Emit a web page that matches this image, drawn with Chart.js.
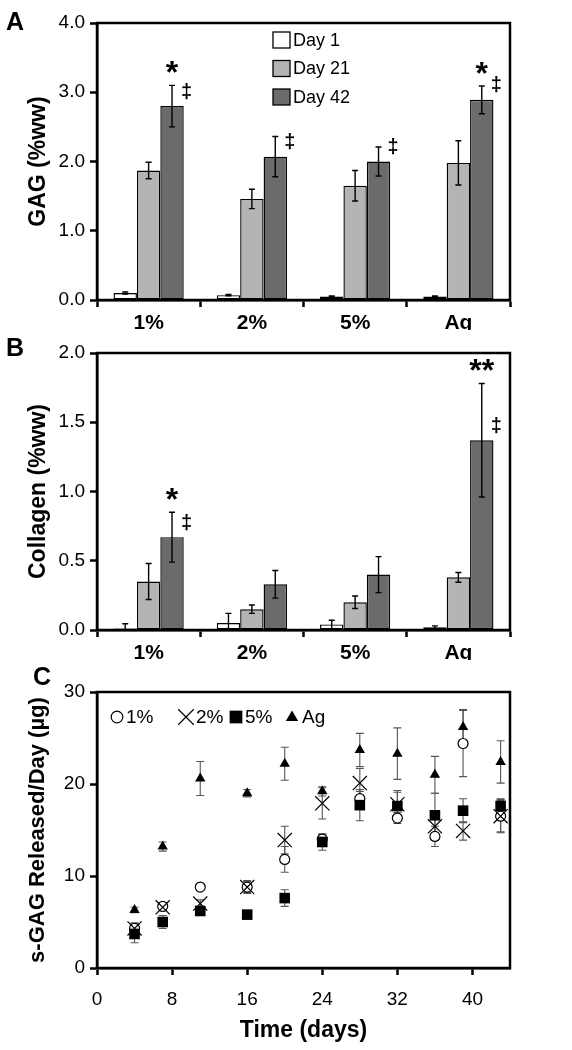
<!DOCTYPE html>
<html>
<head>
<meta charset="utf-8">
<script src="https://cdn.jsdelivr.net/npm/chart.js@4.4.1/dist/chart.umd.min.js"></script>
<style>
  html, body { margin: 0; padding: 0; background: #fff; }
  #page { position: relative; width: 572px; height: 1050px; overflow: hidden; }
  canvas { position: absolute; left: 0; }
</style>
</head>
<body>
<div id="page">
  <canvas id="chartA" width="572" height="330" style="top:0"></canvas>
  <canvas id="chartB" width="572" height="330" style="top:330px"></canvas>
  <canvas id="chartC" width="572" height="390" style="top:660px"></canvas>
</div>
<script>
// ---- data ----
const groups = ['1%', '2%', '5%', 'Ag'];
const dayLabels = ['Day 1', 'Day 21', 'Day 42'];

// A: GAG (%ww)
const gagDay1 = [0.10, 0.07, 0.05, 0.05];
const gagDay1Err = [0.015, 0.01, 0.01, 0.01];
const gagDay21 = [1.87, 1.46, 1.65, 1.98];
const gagDay21Err = [0.12, 0.14, 0.22, 0.32];
const gagDay42 = [2.80, 2.07, 2.00, 2.89];
const gagDay42Err = [0.30, 0.29, 0.21, 0.20];
const gagStar = ['*', '', '', '*'];
const gagDagger = ['‡', '‡', '‡', '‡'];

// B: Collagen (%ww)
const colDay1 = [0.01, 0.05, 0.04, 0.02];
const colDay1Err = [0.035, 0.07, 0.03, 0.01];
const colDay21 = [0.35, 0.15, 0.20, 0.38];
const colDay21Err = [0.13, 0.03, 0.045, 0.035];
const colDay42 = [0.67, 0.33, 0.40, 1.37];
const colDay42Err = [0.18, 0.10, 0.13, 0.41];
const colStar = ['*', '', '', '**'];
const colDagger = ['‡', '', '', '‡'];

// C: s-GAG released per day
const days = [4, 7, 11, 16, 20, 24, 28, 32, 36, 39, 43];
const rel1 = [4.3, 6.7, 8.8, 8.8, 11.8, 14.0, 18.4, 16.3, 14.3, 24.4, 16.5];
const rel1Err = [0.6, 0.4, 0.2, 0.6, 1.4, 0.5, 0.8, 0.6, 1.1, 3.6, 1.8];
const rel2 = [4.3, 6.6, 7.0, 8.8, 13.9, 17.9, 20.1, 17.8, 15.4, 14.9, 16.5];
const rel2Err = [0.5, 0.4, 0.4, 0.7, 1.5, 1.7, 1.6, 1.5, 1.5, 1.0, 1.7];
const rel5 = [3.7, 5.0, 6.2, 5.8, 7.6, 13.7, 17.7, 17.6, 16.6, 17.1, 17.6];
const rel5Err = [0.95, 0.7, 0.3, 0.3, 0.9, 0.9, 1.7, 1.5, 2.4, 1.3, 0.8];
const relAg = [6.3, 13.2, 20.6, 19.0, 22.2, 19.2, 23.7, 23.3, 21.0, 26.2, 22.4];
const relAgErr = [0.3, 0.5, 1.85, 0.4, 1.8, 0.5, 1.8, 2.8, 2.0, 1.9, 2.3];

const gagTicks = [0, 1, 2, 3, 4];
const colTicks = [0, 0.5, 1, 1.5, 2];
const dayTicks = [0, 8, 16, 24, 32, 40];
const relTicks = [0, 10, 20, 30];

// ---- shared look ----
const FONT = "'Liberation Sans', Arial, sans-serif";
Chart.defaults.font.family = FONT;
Chart.defaults.color = '#000';
Chart.defaults.animation = false;

const BAR_COLORS = ['#ffffff', '#b4b4b4', '#6b6b6b'];
const AXIS_W = 2.5;
const PLOT_LEFT = 97;   // width kept for the y axis
const PAD_RIGHT = 62;

// error bars, drawn from the dataset "errors" arrays through the y scale
const errorBarPlugin = {
    id: 'errorBars',
    beforeDatasetsDraw(chart, args, opts) { if (opts.under) drawErrors(chart, opts); },
    afterDatasetsDraw(chart, args, opts) { if (!opts.under) drawErrors(chart, opts); }
};
function drawErrors(chart, opts) {
    const ctx = chart.ctx;
    const yScale = chart.scales.y;
    const area = chart.chartArea;
    ctx.save();
    ctx.beginPath();
    ctx.rect(area.left, area.top - 1, area.right - area.left, area.bottom - area.top + 1);
    ctx.clip();
    ctx.strokeStyle = opts.color;
    ctx.lineWidth = opts.width;
    chart.data.datasets.forEach((ds, i) => {
        if (!ds.errors) return;
        chart.getDatasetMeta(i).data.forEach((el, j) => {
            const raw = ds.data[j];
            const v = typeof raw === 'object' ? raw.y : raw;
            const e = ds.errors[j];
            const x = el.x;
            const yHi = yScale.getPixelForValue(v + e);
            const yLo = yScale.getPixelForValue(v - e);
            ctx.beginPath();
            ctx.moveTo(x, yHi); ctx.lineTo(x, yLo);
            ctx.moveTo(x - opts.cap, yHi); ctx.lineTo(x + opts.cap, yHi);
            ctx.moveTo(x - opts.cap, yLo); ctx.lineTo(x + opts.cap, yLo);
            ctx.stroke();
        });
    });
    ctx.restore();
}

// text centred on a point using the glyph box
function centredText(ctx, text, x, y) {
    const m = ctx.measureText(text);
    ctx.fillText(text, x, y + (m.actualBoundingBoxAscent - m.actualBoundingBoxDescent) / 2);
}

// significance marks above / beside the Day 42 bars
const sigPlugin = {
    id: 'sig',
    afterDatasetsDraw(chart, args, opts) {
        const ctx = chart.ctx;
        const ds = chart.data.datasets[2];
        const meta = chart.getDatasetMeta(2);
        const yScale = chart.scales.y;
        ctx.save();
        ctx.fillStyle = '#000';
        ctx.textAlign = 'center';
        ctx.textBaseline = 'alphabetic';
        meta.data.forEach((el, j) => {
            const top = yScale.getPixelForValue(ds.data[j] + ds.errors[j]);
            if (opts.stars[j]) {
                ctx.font = 'bold 32px ' + FONT;
                centredText(ctx, opts.stars[j], el.x, top - 18);
            }
            if (opts.daggers[j]) {
                ctx.font = 'bold 20px ' + FONT;
                centredText(ctx, opts.daggers[j], el.x + 14.5, el.y - 15);
            }
        });
        ctx.restore();
    }
};

// boxed frame around the plot and the panel letter
const framePlugin = {
    id: 'frame',
    afterDraw(chart, args, opts) {
        const ctx = chart.ctx;
        const a = chart.chartArea;
        ctx.save();
        ctx.strokeStyle = '#000';
        ctx.lineWidth = AXIS_W;
        ctx.strokeRect(a.left, a.top, a.right - a.left, a.bottom - a.top);
        ctx.fillStyle = '#000';
        ctx.font = 'bold 25px ' + FONT;
        ctx.textAlign = 'left';
        ctx.textBaseline = 'alphabetic';
        ctx.fillText(opts.letter, opts.lx, opts.ly);
        ctx.restore();
    }
};

const barLegendPlugin = {
    id: 'barLegend',
    afterDraw(chart, args, opts) {
        if (!opts.show) return;
        const ctx = chart.ctx;
        const a = chart.chartArea;
        ctx.save();
        ctx.font = '18px ' + FONT;
        ctx.textBaseline = 'middle';
        ctx.lineWidth = 1.3;
        chart.data.datasets.forEach((ds, i) => {
            const x = a.left + 176;
            const y = a.top + 17 + i * 28.5;
            ctx.fillStyle = ds.backgroundColor;
            ctx.fillRect(x, y - 8, 17, 16);
            ctx.strokeStyle = '#000';
            ctx.strokeRect(x, y - 8, 17, 16);
            ctx.fillStyle = '#000';
            ctx.fillText(ds.label, x + 20, y + 1);
        });
        ctx.restore();
    }
};

function drawMarker(ctx, style, x, y, r) {
    ctx.beginPath();
    if (style === 'circle') {
        ctx.arc(x, y, r, 0, Math.PI * 2);
        ctx.fillStyle = '#fff'; ctx.fill(); ctx.stroke();
    } else if (style === 'crossRot') {
        const d = r * Math.SQRT1_2;
        ctx.moveTo(x - d, y - d); ctx.lineTo(x + d, y + d);
        ctx.moveTo(x - d, y + d); ctx.lineTo(x + d, y - d);
        ctx.stroke();
    } else if (style === 'rect') {
        const s = r * Math.SQRT1_2;
        ctx.fillStyle = '#000'; ctx.fillRect(x - s, y - s, 2 * s, 2 * s);
    } else if (style === 'triangle') {
        ctx.moveTo(x, y - r);
        ctx.lineTo(x + r * 0.95, y + r * 0.6);
        ctx.lineTo(x - r * 0.95, y + r * 0.6);
        ctx.closePath();
        ctx.fillStyle = '#000'; ctx.fill();
    }
}

const scatterLegendPlugin = {
    id: 'scatterLegend',
    afterDraw(chart, args, opts) {
        const ctx = chart.ctx;
        const a = chart.chartArea;
        const y = a.top + 25;
        ctx.save();
        ctx.font = '19px ' + FONT;
        ctx.textBaseline = 'middle';
        ctx.strokeStyle = '#000';
        ctx.lineWidth = 1.2;
        const sizes = { circle: 5.8, crossRot: 11, rect: 9, triangle: 6.5 };
        const gaps = { circle: 9, crossRot: 10, rect: 9, triangle: 10 };
        chart.data.datasets.forEach((ds, i) => {
            const x = a.left + opts.offsets[i];
            drawMarker(ctx, ds.pointStyle, x, y, sizes[ds.pointStyle]);
            ctx.fillStyle = '#000';
            ctx.fillText(ds.label, x + gaps[ds.pointStyle], y + 1);
        });
        ctx.restore();
    }
};

function axisGrid() {
    return { display: true, drawOnChartArea: false, drawTicks: true, tickLength: 7, tickWidth: AXIS_W, tickColor: '#000' };
}
function axisBorder() {
    return { display: true, color: '#000', width: AXIS_W };
}

function makeBarChart(id, yTicks, yTitle, series, errs, stars, daggers, letter, showLegend) {
    new Chart(document.getElementById(id), {
        type: 'bar',
        data: {
            labels: groups,
            datasets: series.map((vals, i) => ({
                label: dayLabels[i],
                data: vals,
                errors: errs[i],
                backgroundColor: BAR_COLORS[i],
                borderColor: '#000',
                borderWidth: 1.4,
                borderSkipped: false,
                categoryPercentage: 0.68,
                barPercentage: 1.0
            }))
        },
        options: {
            responsive: false,
            events: [],
            layout: { padding: { top: 23, right: PAD_RIGHT, left: 0, bottom: 0 } },
            scales: {
                x: {
                    offset: true,
                    grid: Object.assign(axisGrid(), { offset: true }),
                    border: axisBorder(),
                    ticks: { font: { size: 21, weight: 'bold' }, padding: 4 },
                    afterFit: s => { s.height = 30; }
                },
                y: {
                    min: yTicks[0],
                    max: yTicks[yTicks.length - 1],
                    afterBuildTicks: s => { s.ticks = yTicks.map(v => ({ value: v })); },
                    ticks: { font: { size: 19 }, padding: 5, callback: v => Number(v).toFixed(1) },
                    grid: axisGrid(),
                    border: axisBorder(),
                    title: { display: true, text: yTitle, font: { size: 23, weight: 'bold' }, padding: { top: 25, bottom: 0 } },
                    afterFit: s => { s.width = PLOT_LEFT; }
                }
            },
            plugins: {
                legend: { display: false },
                tooltip: { enabled: false },
                errorBars: { color: '#000', width: 1.4, cap: 3, under: false },
                sig: { stars: stars, daggers: daggers },
                frame: { letter: letter, lx: 6, ly: letter === 'A' ? 30 : 26 },
                barLegend: { show: showLegend }
            }
        },
        plugins: [errorBarPlugin, sigPlugin, framePlugin, barLegendPlugin]
    });
}

makeBarChart('chartA', gagTicks, 'GAG (%ww)',
    [gagDay1, gagDay21, gagDay42], [gagDay1Err, gagDay21Err, gagDay42Err],
    gagStar, gagDagger, 'A', true);

makeBarChart('chartB', colTicks, 'Collagen (%ww)',
    [colDay1, colDay21, colDay42], [colDay1Err, colDay21Err, colDay42Err],
    colStar, colDagger, 'B', false);

// ---- C: scatter with error bars ----
function pts(ys) {
    return days.map((d, i) => ({ x: d, y: ys[i] }));
}

new Chart(document.getElementById('chartC'), {
    type: 'scatter',
    data: {
        datasets: [
            { label: '1%', data: pts(rel1), errors: rel1Err, pointStyle: 'circle', pointRadius: 5,
              backgroundColor: '#fff', borderColor: '#000', borderWidth: 1.2, order: 4 },
            { label: '2%', data: pts(rel2), errors: rel2Err, pointStyle: 'crossRot', pointRadius: 10,
              backgroundColor: '#000', borderColor: '#000', borderWidth: 1.2, order: 3 },
            { label: '5%', data: pts(rel5), errors: rel5Err, pointStyle: 'rect', pointRadius: 7.5,
              backgroundColor: '#000', borderColor: '#000', borderWidth: 0, order: 2 },
            { label: 'Ag', data: pts(relAg), errors: relAgErr, pointStyle: 'triangle', pointRadius: 6,
              backgroundColor: '#000', borderColor: '#000', borderWidth: 0, order: 1 }
        ]
    },
    options: {
        responsive: false,
        events: [],
        layout: { padding: { top: 32, right: PAD_RIGHT, left: 0, bottom: 0 } },
        scales: {
            x: {
                type: 'linear', min: 0, max: 44,
                afterBuildTicks: s => { s.ticks = dayTicks.map(v => ({ value: v })); },
                ticks: { font: { size: 19 }, padding: 13 },
                grid: axisGrid(),
                border: axisBorder(),
                title: { display: true, text: 'Time (days)', font: { size: 23, weight: 'bold' }, padding: { top: 0, bottom: 6 } },
                afterFit: s => { s.height = 82; }
            },
            y: {
                min: 0, max: 30,
                afterBuildTicks: s => { s.ticks = relTicks.map(v => ({ value: v })); },
                ticks: { font: { size: 19 }, padding: 5 },
                grid: axisGrid(),
                border: axisBorder(),
                title: { display: true, text: 's-GAG Released/Day (µg)', font: { size: 22, weight: 'bold' }, padding: { top: 25, bottom: 0 } },
                afterFit: s => { s.width = PLOT_LEFT; }
            }
        },
        plugins: {
            legend: { display: false },
            tooltip: { enabled: false },
            errorBars: { color: '#555', width: 1.1, cap: 4, under: true },
            frame: { letter: 'C', lx: 33, ly: 25 },
            scatterLegend: { offsets: [20, 89, 139, 195] }
        }
    },
    plugins: [errorBarPlugin, framePlugin, scatterLegendPlugin]
});
</script>
</body>
</html>
